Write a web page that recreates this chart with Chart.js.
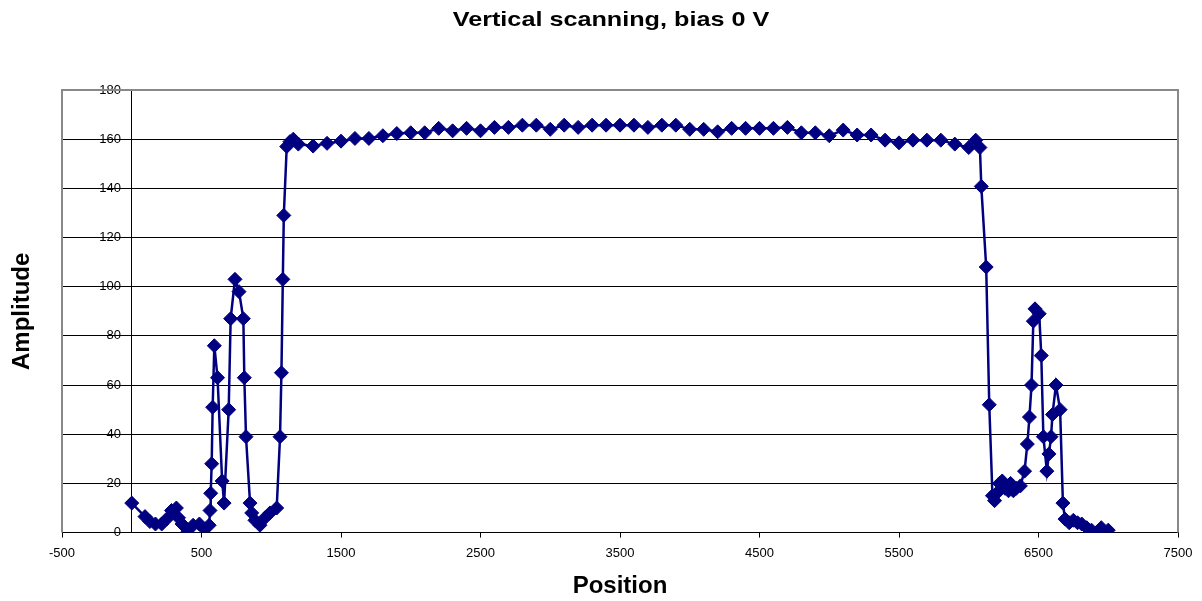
<!DOCTYPE html>
<html>
<head>
<meta charset="utf-8">
<title>Vertical scanning, bias 0 V</title>
<script src="https://cdn.jsdelivr.net/npm/chart.js@4/dist/chart.umd.min.js"></script>
<style>
  html, body { margin: 0; padding: 0; background: #fff; }
  #chart { display: block; }
</style>
</head>
<body>
<canvas id="chart" width="1202" height="601"></canvas>
<script>
// values
const positions = [
  0, 95, 130, 170, 215, 250, 285, 320, 335, 360, 397, 440, 485, 520, 555,
  561, 566, 573, 580, 592, 615, 648, 662, 695, 709, 740, 769, 800, 807, 819,
  848, 860, 883, 919, 955, 991, 1039, 1063, 1073, 1083, 1090, 1111, 1134, 1158, 1194,
  1300, 1400, 1500, 1600, 1700, 1800, 1900, 2000, 2100, 2200, 2300, 2400, 2500,
  2600, 2700, 2800, 2900, 3000, 3100, 3200, 3300, 3400, 3500, 3600, 3700, 3800,
  3900, 4000, 4100, 4200, 4300, 4400, 4500, 4600, 4700, 4800, 4900, 5000, 5100,
  5200, 5300, 5400, 5500, 5600, 5700, 5800, 5900, 6000,
  6050, 6080, 6090, 6125, 6147, 6170, 6185, 6200, 6220, 6240, 6260, 6285, 6300,
  6320, 6340, 6370, 6400, 6420, 6435, 6450, 6463, 6475, 6505, 6520, 6535, 6560,
  6575, 6590, 6600, 6625, 6655, 6675, 6690, 6720, 6750, 6780, 6810, 6845, 6880,
  6915, 6950, 7000
];
const amplitudes = [
  12, 6.5, 4.5, 3.5, 3.5, 5.5, 9, 10, 6, 3.5, 0, 3, 3.5, 1.5, 3,
  9, 16, 28, 51, 76, 63, 21, 12, 50, 87, 103, 98, 87, 63, 39,
  12, 8, 5, 3, 6, 8, 10, 39, 65, 103, 129, 157, 159, 160, 158,
  157.2, 158.3, 159.2, 160.3, 160.3, 161.4, 162.3, 162.6, 162.6, 164.4, 163.4, 164.4, 163.4,
  164.8, 164.8, 165.7, 165.7, 164, 165.7, 164.8, 165.7, 165.7, 165.7, 165.7, 164.8, 165.7,
  165.7, 164, 164, 163, 164.4, 164.4, 164.4, 164.4, 164.8, 162.6, 162.6, 161.4, 163.7,
  161.7, 161.7, 159.6, 158.5, 159.6, 159.6, 159.6, 158, 156.6,
  159.6, 156.6, 140.8, 108, 52, 15, 13, 16, 20, 21, 18, 17, 20,
  17, 18, 19, 25, 36, 47, 60, 86, 91, 89, 72, 39, 25,
  32, 39, 48, 60, 50, 12, 5.5, 4, 5, 4, 3.5, 2, 1,
  0, 2, 1
];
const xTicks = [-500, 500, 1500, 2500, 3500, 4500, 5500, 6500, 7500];
const yTicks = [0, 20, 40, 60, 80, 100, 120, 140, 160, 180];

const FONT = "Arial, 'Liberation Sans', sans-serif";

// grey frame round the plot area, chart title and rotated y title
const framePlugin = {
  id: "frame",
  beforeDatasetsDraw(chart) {
    const { ctx, chartArea: a } = chart;
    ctx.save();
    ctx.strokeStyle = "#888";
    ctx.lineWidth = 2;
    ctx.beginPath();
    ctx.moveTo(a.left, a.bottom);
    ctx.lineTo(a.left, a.top);
    ctx.lineTo(a.right, a.top);
    ctx.lineTo(a.right, a.bottom);
    ctx.stroke();
    ctx.restore();
  },
  afterDraw(chart) {
    const { ctx, chartArea: a } = chart;
    ctx.save();
    ctx.fillStyle = "#000";
    ctx.textAlign = "center";
    ctx.textBaseline = "middle";

    // the title in the original is a bit wider than plain Arial
    ctx.save();
    ctx.translate(611, 20);
    ctx.scale(1.2, 1);
    ctx.font = "bold 21px " + FONT;
    ctx.fillText("Vertical scanning, bias 0 V", 0, 0);
    ctx.restore();

    ctx.translate(22, (a.top + a.bottom) / 2);
    ctx.rotate(-Math.PI / 2);
    ctx.font = "bold 24px " + FONT;
    ctx.fillText("Amplitude", 0, 0);
    ctx.restore();
  },
};

new Chart(document.getElementById("chart"), {
  type: "scatter",
  data: {
    datasets: [
      {
        label: "Amplitude",
        data: positions.map((x, i) => ({ x: x, y: amplitudes[i] })),
        showLine: true,
        borderColor: "#000080",
        backgroundColor: "#000080",
        borderWidth: 2.5,
        pointStyle: "rectRot",
        pointRadius: 7,
        pointBorderWidth: 1,
        pointBorderColor: "#000080",
      },
    ],
  },
  options: {
    responsive: false,
    animation: false,
    layout: { padding: { left: 62, right: 24, top: 90, bottom: 0 } },
    plugins: {
      legend: { display: false },
      tooltip: { enabled: false },
      title: { display: false },
    },
    scales: {
      x: {
        type: "linear",
        position: "bottom",
        min: -500,
        max: 7500,
        afterBuildTicks: (s) => {
          s.ticks = xTicks.map((v) => ({ value: v }));
        },
        grid: {
          drawOnChartArea: false,
          drawTicks: true,
          tickLength: 5,
          color: "#000",
        },
        border: { color: "#000", width: 1 },
        ticks: {
          color: "#000",
          font: { family: FONT, size: 13 },
          padding: 8,
          maxRotation: 0,
          callback: (v) => String(v),
        },
        title: {
          display: true,
          text: "Position",
          color: "#000",
          font: { family: FONT, size: 24, weight: "bold" },
          padding: { top: 3, bottom: 0 },
        },
      },
      y: {
        type: "linear",
        position: { x: 0 },
        min: 0,
        max: 180,
        afterBuildTicks: (s) => {
          s.ticks = yTicks.map((v) => ({ value: v }));
        },
        grid: {
          color: "#000",
          lineWidth: 1,
          drawTicks: true,
          tickLength: 5,
        },
        border: { color: "#000", width: 1 },
        ticks: {
          color: "#000",
          font: { family: FONT, size: 13 },
          // labels sit right against the axis, so pad them with spaces
          callback: (v) => v + "   ",
        },
      },
    },
  },
  plugins: [framePlugin],
});
</script>
</body>
</html>
